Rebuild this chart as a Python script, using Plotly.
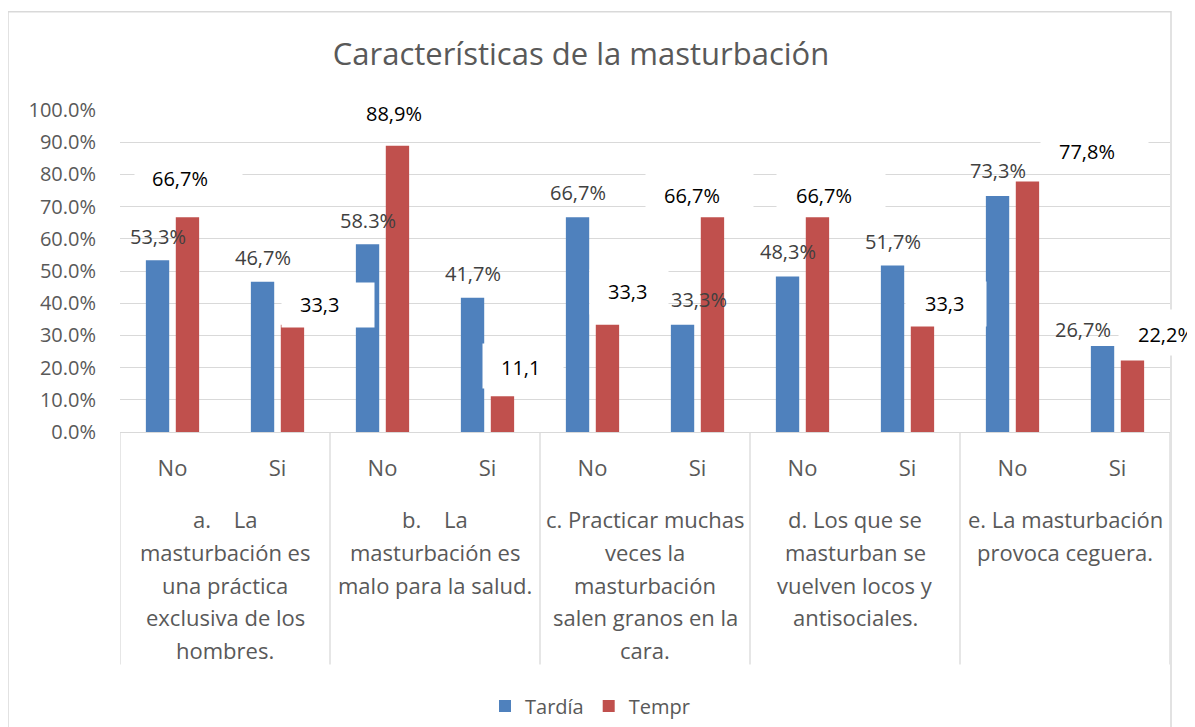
import plotly.graph_objects as go

# ---------------- data ----------------
group_lines = [
    ["a.\u00a0\u00a0\u00a0\u00a0La", "masturbación es", "una práctica", "exclusiva de los", "hombres."],
    ["b.\u00a0\u00a0\u00a0\u00a0La", "masturbación es", "malo para la salud."],
    ["c. Practicar muchas", "veces la", "masturbación", "salen granos en la", "cara."],
    ["d. Los que se", "masturban se", "vuelven locos y", "antisociales."],
    ["e. La masturbación", "provoca ceguera."],
]
responses = ["No", "Si"]
tardia = [53.3, 46.7, 58.3, 41.7, 66.7, 33.3, 48.3, 51.7, 73.3, 26.7]
tempr = [66.7, 33.3, 88.9, 11.1, 33.3, 66.7, 66.7, 33.3, 77.8, 22.2]
tardia_labels = ["53,3%", "46,7%", "58.3%", "41,7%", "66,7%", "33,3%", "48,3%", "51,7%", "73,3%", "26,7%"]
tempr_labels = ["66,7%", "33,3", "88,9%", "11,1", "33,3", "66,7%", "66,7%", "33,3", "77,8%", "22,2%"]
y_ticks = [0, 10, 20, 30, 40, 50, 60, 70, 80, 90, 100]

# ---------------- label placement (pixel offsets) ----------------
tardia_dx = [0, 0, 0, 0, 0, 16, 0, 0, 0, -20]
tardia_dy = [24, 24, 24, 24, 25, 25, 25, 24, 25, 17]
tempr_dx = [-7.5, 27.5, -3.5, 18.5, 20.5, -20.5, 6.5, 22.5, 59.5, 33.5]
tempr_dy = [39, 20, 32.6, 28.5, 33, 22, 22, 21, 30, 25.6]
# white label boxes: size and offset of box centre from text centre
box_w = [107, 92, 108, 80, 78, 107, 108, 80, 107, 94]
box_h = [42, 44, 42, 44, 44, 42, 42, 44, 42, 45]
box_dx = [8.5, 8, 7, 2, 1, 7.5, 7, 1.5, 7.5, 0]
box_dy = [3, 0, 3, 2, 0, 3, 3, 0, 3, 2.5]

BLUE = "#4F81BD"
RED = "#C0504D"
GRID = "#D9D9D9"
TXT = "#595959"
FONT = "Open Sans"

# page body margin offsets the figure by 8px; positions below are in page pixels
OFF = 8
W, H = 1195, 727
PLOT_L, PLOT_R, PLOT_T, PLOT_B = 120, 1170, 109.5, 432.3
ML = PLOT_L - OFF
MR = W - (PLOT_R - OFF)
MT = PLOT_T - OFF
MB = H - (PLOT_B - OFF)
PH = PLOT_B - PLOT_T
PW = PLOT_R - PLOT_L


def py_to_paper(py):
    return (PLOT_B - py) / PH


def px_to_paper(px):
    return (px - PLOT_L) / PW


BARGAP = 0.43
GROUPGAP = 0.22
half = (1 - BARGAP) / 4  # offset of each bar centre from category centre

n = len(tardia)
xs = list(range(n))
ticktext = [responses[i % 2] for i in range(n)]

fig = go.Figure()
fig.add_trace(go.Bar(name="Tardía", x=xs, y=tardia, marker=dict(color=BLUE, line=dict(width=0))))
fig.add_trace(go.Bar(name="Tempr", x=xs, y=tempr, marker=dict(color=RED, line=dict(width=0))))

annotations = []
# white boxes behind the Tempr labels
for i in range(n):
    annotations.append(dict(
        x=xs[i] + half, y=tempr[i], xref="x", yref="y",
        text="\u00a0", showarrow=False,
        xshift=tempr_dx[i] + box_dx[i], yshift=tempr_dy[i] + box_dy[i],
        xanchor="center", yanchor="middle",
        width=box_w[i], height=box_h[i],
        bgcolor="white", borderpad=0,
        font=dict(family=FONT, size=20, color="#000000"),
    ))
# Tardía labels (no background)
for i in range(n):
    annotations.append(dict(
        x=xs[i] - half, y=tardia[i], xref="x", yref="y",
        text=tardia_labels[i], showarrow=False,
        xshift=tardia_dx[i], yshift=tardia_dy[i],
        xanchor="center", yanchor="middle",
        font=dict(family=FONT, size=20, color="#404040"),
    ))
# Tempr labels
for i in range(n):
    annotations.append(dict(
        x=xs[i] + half, y=tempr[i], xref="x", yref="y",
        text=tempr_labels[i], showarrow=False,
        xshift=tempr_dx[i], yshift=tempr_dy[i],
        xanchor="center", yanchor="middle",
        font=dict(family=FONT, size=20, color="#000000"),
    ))

# group labels under categories
line_y0, line_step = 520, 32.6
for g, lines in enumerate(group_lines):
    for k, ln in enumerate(lines):
        annotations.append(dict(
            x=2 * g + 0.5, y=py_to_paper(line_y0 + k * line_step), xref="x", yref="paper",
            text=ln, showarrow=False, xanchor="center", yanchor="middle",
            font=dict(family=FONT, size=22, color=TXT),
        ))

shapes = []
# group separators
for g in range(len(group_lines) + 1):
    shapes.append(dict(
        type="line", xref="x", yref="paper",
        x0=2 * g - 0.5, x1=2 * g - 0.5, y0=0, y1=py_to_paper(665.5),
        line=dict(color=GRID, width=1.3),
    ))
# chart border
shapes.append(dict(
    type="rect", xref="paper", yref="paper",
    x0=px_to_paper(8), x1=px_to_paper(1171), y0=py_to_paper(760), y1=py_to_paper(11),
    line=dict(color=GRID, width=1.5), fillcolor="rgba(0,0,0,0)", layer="below",
))

fig.update_layout(
    width=W, height=H,
    margin=dict(l=ML, r=MR, t=MT, b=MB, autoexpand=False),
    paper_bgcolor="white", plot_bgcolor="white",
    font=dict(family=FONT, color=TXT),
    barmode="group", bargap=BARGAP, bargroupgap=GROUPGAP,
    title=dict(text="Características de la masturbación", x=(581 - OFF) / W, xanchor="center",
               y=1 - (54 - OFF) / H, yanchor="middle", font=dict(family=FONT, size=31, color=TXT)),
    xaxis=dict(range=[-0.5, n - 0.5], tickmode="array", tickvals=xs, ticktext=ticktext,
               tickfont=dict(family=FONT, size=22, color=TXT), showgrid=False, zeroline=False,
               showline=True, linecolor=GRID, linewidth=1.3, ticks="", ticklabelstandoff=16),
    yaxis=dict(range=[0, 100], tickmode="array", tickvals=y_ticks,
               ticktext=[f"{v:.1f}%" for v in y_ticks],
               tickfont=dict(family=FONT, size=20, color=TXT), showgrid=True, gridcolor=GRID,
               gridwidth=1.3, zeroline=False, showline=False, ticks="", ticklabelstandoff=23),
    legend=dict(orientation="h", x=px_to_paper(590), xanchor="center", y=py_to_paper(707),
                yanchor="middle", font=dict(family=FONT, size=20, color=TXT), traceorder="normal"),
    annotations=annotations, shapes=shapes,
)

fig.write_html("out.html")
